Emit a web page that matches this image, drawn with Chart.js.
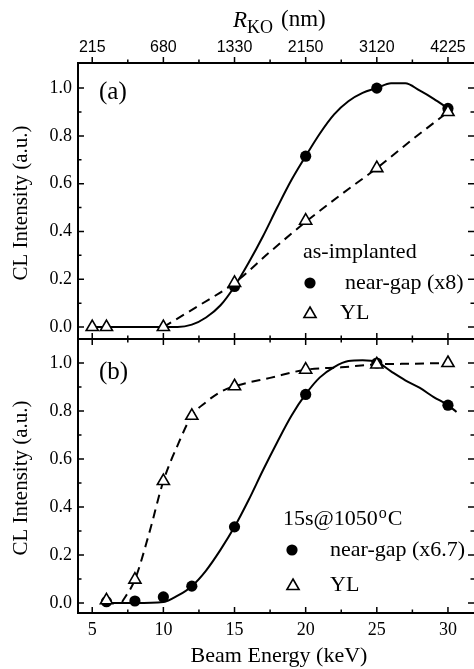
<!DOCTYPE html>
<html>
<head>
<meta charset="utf-8">
<script src="https://cdn.jsdelivr.net/npm/chart.js@4.4.1/dist/chart.umd.min.js"></script>
<style>
html, body { margin: 0; padding: 0; background: #fff; }
#wrap { position: relative; width: 474px; height: 669px; }
canvas { position: absolute; left: 0; }
#chartA { top: 0; }
#chartB { top: 339px; }
</style>
</head>
<body>
<div id="wrap">
<canvas id="chartA" width="474" height="339"></canvas>
<canvas id="chartB" width="474" height="330"></canvas>
</div>
<script>
// tick labels
var energyTicks = [5, 10, 15, 20, 25, 30];
var rkoLabels = ['215', '680', '1330', '2150', '3120', '4225'];
var intensityTicks = [0, 0.2, 0.4, 0.6, 0.8, 1.0];

// (a) as-implanted
var energyA = [5, 6, 10, 15, 20, 25, 30];
var ylA = [0, 0, 0, 0.185, 0.445, 0.665, 0.90];
var energyNearA = [15, 20, 25, 30];
var nearGapA = [0.17, 0.715, 1.0, 0.915];
// fitted curves
var fitNearAx = [5, 10, 11, 12, 13, 14, 15, 16, 17, 18, 19, 20, 21, 22, 23, 24, 25, 26, 27, 28, 29, 30];
var fitNearAy = [0, 0, 0, 0.01, 0.04, 0.09, 0.17, 0.27, 0.38, 0.5, 0.615, 0.715, 0.81, 0.89, 0.945, 0.98, 1.0, 1.02, 1.02, 0.99, 0.955, 0.915];
var fitYlAx = [10, 12.5, 15, 17.5, 20, 22.5, 25, 27.5, 30];
var fitYlAy = [0, 0.09, 0.185, 0.315, 0.44, 0.555, 0.665, 0.785, 0.90];

// (b) 15s@1050C
var energyB = [6, 8, 10, 12, 15, 20, 25, 30];
var nearGapB = [0.005, 0.008, 0.025, 0.07, 0.317, 0.869, 1.0, 0.824];
var ylB = [0.011, 0.097, 0.508, 0.78, 0.903, 0.972, 0.994, 1.0];
var fitNearBx = [6, 8, 10, 11, 12, 13, 14, 15, 16, 17, 18, 19, 20, 21, 22, 23, 24, 25, 26, 27, 28, 29, 30, 30.6];
var fitNearBy = [0, 0, 0.004, 0.03, 0.07, 0.135, 0.22, 0.317, 0.43, 0.553, 0.67, 0.78, 0.87, 0.94, 0.983, 1.008, 1.011, 1.004, 0.965, 0.928, 0.897, 0.858, 0.824, 0.796];
var fitYlBx = [7.1, 8, 9, 10, 11, 12, 13, 14, 15, 17.5, 20, 22.5, 25, 27.5, 30];
var fitYlBy = [0.004, 0.097, 0.29, 0.508, 0.657, 0.78, 0.837, 0.879, 0.903, 0.938, 0.972, 0.982, 0.994, 0.997, 1.0];

var SERIF = '"Liberation Serif", "Times New Roman", serif';
var SANS = '"Liberation Sans", Arial, sans-serif';

function pts(xs, ys) {
    return xs.map(function (x, i) { return { x: x, y: ys[i] }; });
}

function markerSets(ex, yl, en, ng) {
    return [{
            data: pts(ex, yl),
            showLine: false,
            pointStyle: 'triangle',
            pointRadius: 7,
            pointBackgroundColor: '#fff',
            pointBorderColor: '#000',
            pointBorderWidth: 1.6
        },
        {
            data: pts(en, ng),
            showLine: false,
            pointStyle: 'circle',
            pointRadius: 5.6,
            pointBackgroundColor: '#000',
            pointBorderColor: '#000',
            pointBorderWidth: 0
        }
    ];
}

function curve(xs, ys, dashed) {
    return {
        data: pts(xs, ys),
        borderColor: '#000',
        borderWidth: 2,
        borderDash: dashed ? [9, 6] : [],
        pointRadius: 0,
        cubicInterpolationMode: 'monotone',
        fill: false
    };
}

function drawTri(ctx, x, y, r) {
    ctx.beginPath();
    for (var i = 0; i < 3; i++) {
        var a = -Math.PI / 2 + i * 2 * Math.PI / 3;
        if (i === 0) ctx.moveTo(x + Math.cos(a) * r, y + Math.sin(a) * r);
        else ctx.lineTo(x + Math.cos(a) * r, y + Math.sin(a) * r);
    }
    ctx.closePath();
    ctx.fillStyle = '#fff';
    ctx.fill();
    ctx.lineWidth = 1.6;
    ctx.strokeStyle = '#000';
    ctx.stroke();
}

function drawDot(ctx, x, y, r) {
    ctx.beginPath();
    ctx.arc(x, y, r, 0, 2 * Math.PI);
    ctx.fillStyle = '#000';
    ctx.fill();
}

// no extra room for the end labels: the panels touch
function noPad(scale) {
    scale.paddingTop = 0;
    scale.paddingBottom = 0;
    scale.paddingLeft = 0;
    scale.paddingRight = 0;
}

// frame, inward ticks and in-plot text
function framePlugin(panel) {
    return {
        id: 'frame' + panel,
        afterDraw: function (chart) {
            var ctx = chart.ctx;
            var a = chart.chartArea;
            var sx = chart.scales.x;
            var sy = chart.scales.y;
            ctx.save();
            ctx.strokeStyle = '#000';
            ctx.lineWidth = 2;
            ctx.beginPath();
            ctx.moveTo(a.left, a.top - (panel === 'a' ? 1 : 0));
            ctx.lineTo(a.left, a.bottom + 1);
            ctx.moveTo(a.left - 1, a.top);
            ctx.lineTo(a.right, a.top);
            ctx.moveTo(a.left - 1, a.bottom);
            ctx.lineTo(a.right, a.bottom);
            ctx.stroke();

            ctx.lineWidth = 1.5;
            ctx.beginPath();
            for (var v = 5; v <= 30; v += 2.5) {
                var px = sx.getPixelForValue(v);
                var len = (v % 5 === 0) ? 6 : 3.5;
                if (panel === 'a') {
                    ctx.moveTo(px, a.top); ctx.lineTo(px, a.top - len);
                } else {
                    ctx.moveTo(px, a.top); ctx.lineTo(px, a.top + len);
                }
                ctx.moveTo(px, a.bottom); ctx.lineTo(px, a.bottom - len);
            }
            for (var k = 0; k <= 10; k++) {
                var py = sy.getPixelForValue(k / 10);
                var l2 = (k % 2 === 0) ? 6 : 3.5;
                ctx.moveTo(a.left, py); ctx.lineTo(a.left + l2, py);
                ctx.moveTo(a.right, py); ctx.lineTo(a.right - l2, py);
            }
            ctx.stroke();

            ctx.fillStyle = '#000';
            ctx.textBaseline = 'alphabetic';
            ctx.textAlign = 'left';
            var off = panel === 'a' ? 0 : 339;
            if (panel === 'a') {
                ctx.font = '25px ' + SERIF;
                ctx.fillText('(a)', 99, 99);
                ctx.font = '22px ' + SERIF;
                ctx.fillText('as-implanted', 303, 258);
                drawDot(ctx, 310, 283, 5.6);
                ctx.fillStyle = '#000';
                ctx.font = '22px ' + SERIF;
                ctx.fillText('near-gap (x8)', 345, 289);
                drawTri(ctx, 310, 314, 7);
                ctx.fillStyle = '#000';
                ctx.fillText('YL', 340, 319);

                // top axis title
                ctx.font = 'italic 23px ' + SERIF;
                ctx.fillText('R', 233, 27);
                ctx.font = '18px ' + SERIF;
                ctx.fillText('KO', 247, 33);
                ctx.font = '23px ' + SERIF;
                ctx.fillText('(nm)', 281, 26);
            } else {
                ctx.font = '25px ' + SERIF;
                ctx.fillText('(b)', 99, 379 - off);
                ctx.font = '22px ' + SERIF;
                var t1 = '15s@1050';
                ctx.fillText(t1, 283, 525 - off);
                var w1 = ctx.measureText(t1).width;
                ctx.font = '16px ' + SERIF;
                ctx.fillText('o', 283 + w1 + 1, 518 - off);
                var w2 = ctx.measureText('o').width;
                ctx.font = '22px ' + SERIF;
                ctx.fillText('C', 283 + w1 + w2 + 2, 525 - off);
                drawDot(ctx, 292, 550 - off, 5.6);
                ctx.fillStyle = '#000';
                ctx.fillText('near-gap (x6.7)', 330, 556 - off);
                drawTri(ctx, 293, 586 - off, 7);
                ctx.fillStyle = '#000';
                ctx.fillText('YL', 330, 591 - off);

                ctx.textAlign = 'center';
                ctx.fillText('Beam Energy (keV)', 279, 662 - off);
            }

            // y axis title
            ctx.save();
            ctx.translate(27, (a.top + a.bottom) / 2 + 2);
            ctx.rotate(-Math.PI / 2);
            ctx.textAlign = 'center';
            ctx.font = '21px ' + SERIF;
            ctx.fillStyle = '#000';
            ctx.fillText('CL Intensity (a.u.)', 0, 0);
            ctx.restore();
            ctx.restore();
        }
    };
}

function yScale(min, max) {
    return {
        type: 'linear',
        position: 'left',
        min: min,
        max: max,
        afterBuildTicks: function (scale) {
            scale.ticks = intensityTicks.map(function (v) { return { value: v }; });
        },
        afterFit: function (scale) { scale.width = 78; noPad(scale); },
        grid: { display: false, drawTicks: false },
        border: { display: false },
        ticks: {
            padding: 6,
            color: '#000',
            font: { family: SERIF, size: 18 },
            callback: function (v) { return v.toFixed(1); }
        }
    };
}

function xScale(pos, height, labels, font) {
    return {
        type: 'linear',
        position: pos,
        min: 4,
        max: 31.83,
        afterBuildTicks: function (scale) {
            scale.ticks = energyTicks.map(function (v) { return { value: v }; });
        },
        afterFit: function (scale) { scale.height = height; noPad(scale); },
        grid: { display: false, drawTicks: false },
        border: { display: false },
        ticks: {
            padding: 6,
            color: '#000',
            autoSkip: false,
            maxRotation: 0,
            font: font,
            callback: function (v, i) { return labels[i]; }
        }
    };
}

var baseOptions = {
    responsive: false,
    animation: false,
    devicePixelRatio: 1,
    layout: { padding: 0, autoPadding: false },
    plugins: { legend: { display: false }, tooltip: { enabled: false } }
};

var elA = document.getElementById('chartA').getContext('2d');
var chartA = new Chart(elA, {
    type: 'line',
    data: {
        datasets: markerSets(energyA, ylA, energyNearA, nearGapA).concat([
            curve(fitNearAx, fitNearAy, false),
            curve(fitYlAx, fitYlAy, true)
        ])
    },
    options: Object.assign({}, baseOptions, {
        scales: {
            x: xScale('top', 63, rkoLabels, { family: SANS, size: 16 }),
            y: yScale(-0.05, 1.105)
        }
    }),
    plugins: [framePlugin('a')]
});

var elB = document.getElementById('chartB').getContext('2d');
var chartB = new Chart(elB, {
    type: 'line',
    data: {
        datasets: markerSets(energyB, ylB, energyB, nearGapB).concat([
            curve(fitNearBx, fitNearBy, false),
            curve(fitYlBx, fitYlBy, true)
        ])
    },
    options: Object.assign({}, baseOptions, {
        scales: {
            x: xScale('bottom', 56, energyTicks.map(String), { family: SERIF, size: 18 }),
            y: yScale(-0.042, 1.1)
        }
    }),
    plugins: [framePlugin('b')]
});
</script>
</body>
</html>
